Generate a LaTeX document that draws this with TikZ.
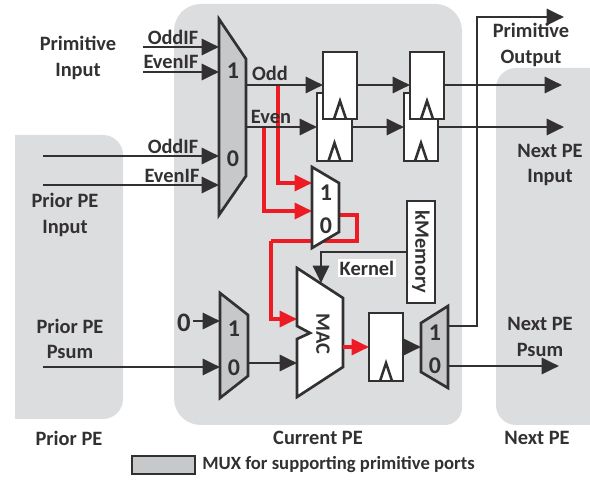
\documentclass[tikz,border=0pt]{standalone}
\usepackage{fontspec}
\setmainfont{Carlito}
\usetikzlibrary{arrows.meta}
\definecolor{peback}{RGB}{220,221,223}
\definecolor{muxgray}{RGB}{199,200,202}
\definecolor{wirek}{RGB}{50,48,49}
\definecolor{wirered}{RGB}{237,28,36}
\tikzset{
  peblock/.style={fill=peback,draw=none},
  wire/.style={draw=wirek,line width=2.2pt,-{Triangle[length=13pt,width=12pt]}},
  redwire/.style={draw=wirered,line width=2.4pt,-{Triangle[length=13pt,width=12pt]}},
  redplain/.style={draw=wirered,line width=2.4pt},
  plain/.style={draw=wirek,line width=1.9pt},
  box/.style={draw=wirek,line width=2pt,fill=white},
  muxbox/.style={draw=wirek,line width=2pt,fill=muxgray},
  txt/.style={font=\bfseries\fontsize{15.3}{19.3}\selectfont,text=wirek,inner sep=0pt,align=center},
  big/.style={font=\bfseries\fontsize{18}{18}\selectfont,text=wirek,inner sep=0pt}
}
% one flip-flop: #1 left, #2 top, #3 right, #4 bottom
\newcommand{\regbox}[4]{
  \filldraw[box] (#1,#2) rectangle (#3,#4);
  \draw[plain] ({(#1+#3)/2-6},#4) -- ({(#1+#3)/2},{#4-18}) -- ({(#1+#3)/2+6},#4);
}
\begin{document}
\begin{tikzpicture}[x=0.75pt,y=-0.75pt]
\useasboundingbox (0,0) rectangle (590,481);
% backgrounds
\fill[peblock] (15,135) [rounded corners=15pt] -- (123,135) -- (123,419) [sharp corners] -- (60,419) -- (15,419) -- cycle;
\fill[peblock] (300,4) [rounded corners=20pt] -- (462,4) [rounded corners=13pt] -- (462,425) [rounded corners=20pt] -- (174,425) -- (174,4) -- cycle;
\fill[peblock] (590,68) [rounded corners=15pt] -- (496,68) -- (496,425) [sharp corners] -- (590,425) -- cycle;
% coordinates
\coordinate (muxin1) at (219,47);
\coordinate (muxin2) at (219,72);
\coordinate (muxin3) at (219,156);
\coordinate (muxin4) at (219,185);
\coordinate (pin1) at (143,47);
\coordinate (pin2) at (143,72);
\coordinate (ein1) at (43,156);
\coordinate (ein2) at (43,185);
\coordinate (oddl) at (246,85);
\coordinate (evenl) at (246,127);
\coordinate (oddr) at (323,85);
\coordinate (evenr) at (317,127);
\coordinate (ff1r) at (357,85);
\coordinate (ff2l) at (410,85);
\coordinate (ff3r) at (352,127);
\coordinate (ff4l) at (404,127);
\coordinate (ff2r) at (444,85);
\coordinate (ff4r) at (438,127);
\coordinate (oddout) at (562,85);
\coordinate (evenout) at (564,127);
\coordinate (redodd) at (278,85);
\coordinate (redeven) at (264,127);
\coordinate (redm1) at (312,183);
\coordinate (redm2) at (312,211);
\coordinate (redout) at (339,215);
\coordinate (redturn) at (357,215);
\coordinate (redback) at (357,241);
\coordinate (reddown) at (271,241);
\coordinate (macred) at (297,319);
\coordinate (macout) at (343,347);
\coordinate (ff5l) at (369,347);
\coordinate (ff5r) at (403,347);
\coordinate (mux3l) at (421,347);
\coordinate (zerostart) at (193,321);
\coordinate (zeroend) at (220,321);
\coordinate (psumstart) at (43,367);
\coordinate (psumin) at (220,367);
\coordinate (mux2out) at (248,363);
\coordinate (macin) at (297,363);
\coordinate (mux3up) at (448,326);
\coordinate (upturn) at (477,326);
\coordinate (uptop) at (477,17);
\coordinate (primtip) at (564,17);
\coordinate (mux3down) at (448,366);
\coordinate (sumtip) at (559,366);
\coordinate (kmemout) at (407,252);
\coordinate (kernturn) at (321,252);
\coordinate (kerntip) at (321,283);
% red wires under the small mux
\draw[redwire] (redodd) |- (redm1);
\draw[redwire] (redeven) |- (redm2);
\draw[redplain] (redout) -- (redturn) -- (redback) -- (reddown);
\draw[redwire] (reddown) |- (macred);
% muxes
\filldraw[muxbox] (219,19) -- (246,59) -- (246,176) -- (219,215) -- cycle;
\filldraw[muxbox] (220,293) -- (248,315) -- (248,376) -- (220,398) -- cycle;
\filldraw[muxbox] (448,306) -- (421,323) -- (421,372) -- (448,388) -- cycle;
\filldraw[box] (312,167) -- (339,183) -- (339,232) -- (312,248) -- cycle;
\filldraw[box] (297,268) -- (343,298) -- (343,367) -- (297,397) -- (297,339) -- (310,333) -- (297,326) -- cycle;
% black wires
\draw[wire] (pin1) -- (muxin1);
\draw[wire] (pin2) -- (muxin2);
\draw[wire] (ein1) -- (muxin3);
\draw[wire] (ein2) -- (muxin4);
\draw[wire] (oddl) -- (oddr);
\draw[wire] (evenl) -- (evenr);
\draw[wire] (ff1r) -- (ff2l);
\draw[wire] (ff3r) -- (ff4l);
\draw[wire] (ff2r) -- (oddout);
\draw[wire] (ff4r) -- (evenout);
\draw[wire] (zerostart) -- (zeroend);
\draw[wire] (psumstart) -- (psumin);
\draw[wire] (mux2out) -- (macin);
\draw[wire] (ff5r) -- (mux3l);
\draw[wire] (mux3up) -- (upturn) -- (uptop) -- (primtip);
\draw[wire] (mux3down) -- (sumtip);
\draw[wire] (kmemout) -- (kernturn) -- (kerntip);
\draw[redwire] (macout) -- (ff5l);
% registers
\regbox{317}{93}{352}{161}
\regbox{404}{93}{438}{161}
\regbox{323}{52}{357}{119}
\regbox{410}{52}{444}{119}
\regbox{369}{313}{403}{381}
% memory
\filldraw[box] (407,201) rectangle (435,303);
\node[txt,rotate=-90] (kmem) at (421,252) {kMemory};
\node[txt,fill=white,inner sep=1.5pt] (kern) at (367,268) {Kernel};
\node[txt,rotate=-90] (mactxt) at (323,334) {MAC};
% labels
\node[txt] (priminput) at (78,58) {Primitive\\Input};
\node[txt] (oddif1) at (173,37) {OddIF};
\node[txt] (evenif1) at (171,62) {EvenIF};
\node[txt] (oddif2) at (173,146) {OddIF};
\node[txt] (evenif2) at (172,176) {EvenIF};
\node[txt] (priorin) at (65,215) {Prior PE\\Input};
\node[txt] (priorsum) at (70,339) {Prior PE\\Psum};
\node[txt] (primout) at (531,45) {Primitive\\Output};
\node[txt] (nextin) at (550,165) {Next PE\\Input};
\node[txt] (nextsum) at (540,337) {Next PE\\Psum};
\node[txt] (oddtxt) at (270,73) {Odd};
\node[txt] (eventxt) at (271,117) {Even};
\node[big] (m1a) at (233,71) {1};
\node[big] (m1b) at (233,159) {0};
\node[big] (m2a) at (234,329) {1};
\node[big] (m2b) at (234,368) {0};
\node[big] (m3a) at (435,333) {1};
\node[big] (m3b) at (435,366) {0};
\node[big] (m4a) at (326,193) {1};
\node[big] (m4b) at (326,226) {0};
\node[big,font=\bfseries\fontsize{20}{20}\selectfont] (zerotxt) at (184,323) {0};
\node[txt] (priorpe) at (69,438) {Prior PE};
\node[txt] (curpe) at (318,438) {Current PE};
\node[txt] (nextpe) at (537,438) {Next PE};
\filldraw[muxbox] (132,456) rectangle (195,474);
\node[txt,anchor=west,font=\bfseries\fontsize{14}{14}\selectfont] (legend) at (202,465) {MUX for supporting primitive ports};
\end{tikzpicture}
\end{document}
